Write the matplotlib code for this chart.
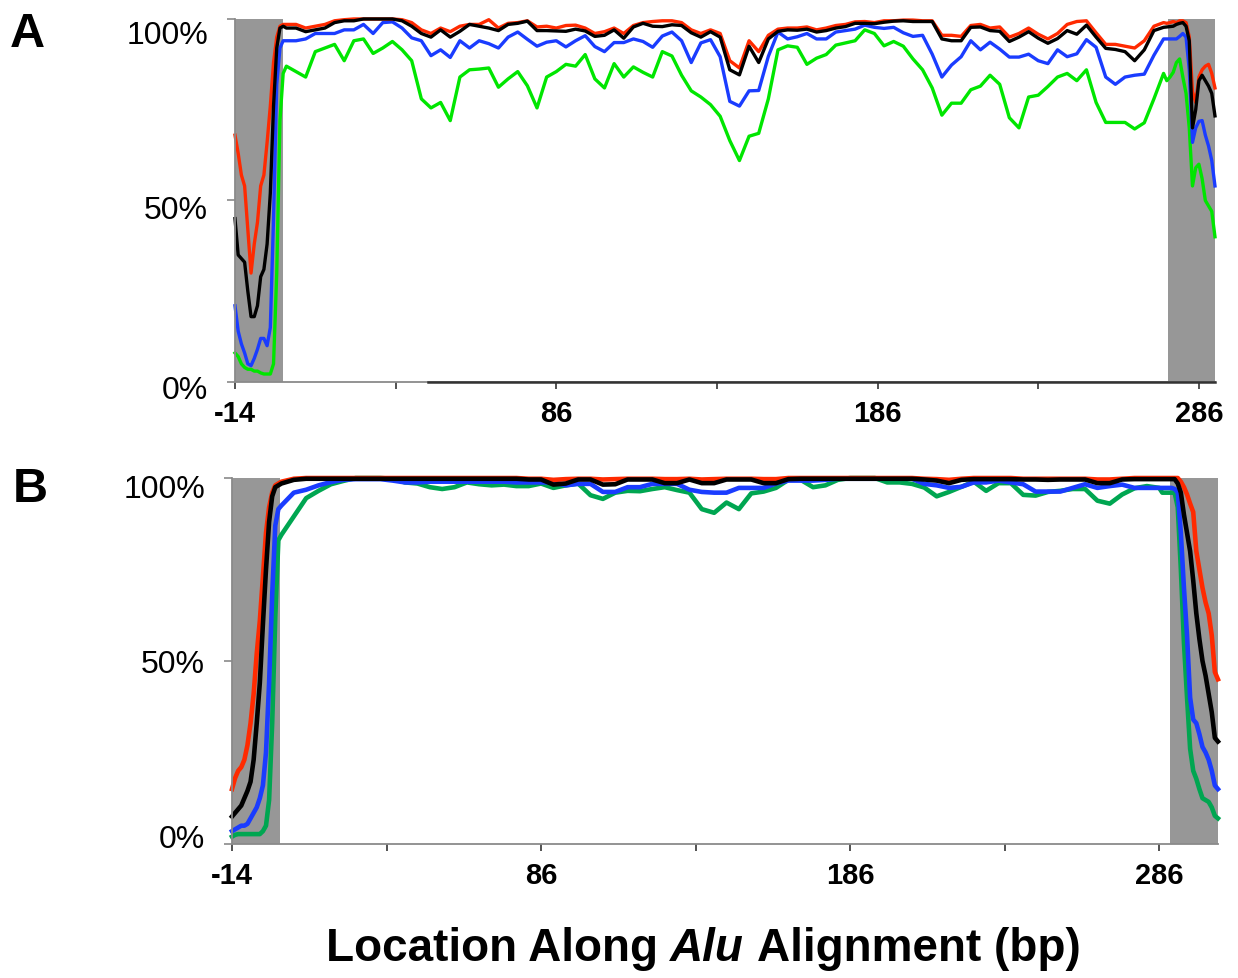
import matplotlib
matplotlib.use("Agg")
import matplotlib.pyplot as plt
from matplotlib import transforms
from matplotlib.offsetbox import TextArea, HPacker, AnchoredOffsetbox

plt.rcParams["font.family"] = ["Liberation Sans", "DejaVu Sans"]

# ---------------- panel A (positions along the Alu alignment) ----------------
a_x = list(range(-14, 3)) + list(range(5, 276, 3)) + list(range(276, 292))

a_red = ([68, 63, 57, 54, 42, 30, 38, 44, 54, 57, 66, 76, 88, 95, 98, 98.5, 98.5]
         + [98.5, 97.5, 98, 98.5, 99.5, 99.8, 100, 100, 100, 100,
            100, 99.8, 99, 97, 96, 97.5, 96.5, 98, 98.5, 98.5,
            99.8, 97.5, 98.8, 99, 99.5, 97.8, 98, 97.5, 98.2, 98.3,
            97.5, 96, 96.5, 97.5, 96, 98.2, 99, 99.3, 99.5, 99.5,
            99, 97, 96, 97, 96, 88.5, 86.5, 94, 91, 95.5,
            97.2, 97.5, 97.5, 97.8, 97, 97.5, 98.2, 98.5, 99.2, 99.3,
            99, 99.5, 99.5, 99.7, 99.7, 99.5, 99.5, 95.5, 95.5, 95.2,
            98.2, 98.5, 97.5, 97.8, 95, 96, 97.5, 95.8, 94.5, 96,
            98.5, 99.3, 99.5, 96.2, 93, 93, 92.5, 92, 94, 98,
            99]
         + [98.8, 99, 99.3, 99, 99.5, 99.5, 99, 95, 80, 77, 84, 86, 87, 87.5, 85, 81])

a_black = ([45, 35, 34, 33, 25, 18, 18, 21, 29, 31, 38, 52, 76, 92, 97.5, 98, 97.5]
           + [97.5, 96.5, 97, 97.5, 99, 99.5, 99.5, 100, 100, 100,
              100, 99.5, 98, 96, 95, 97, 95, 96.6, 98.5, 98,
              97.5, 96.8, 98.5, 98.8, 99.4, 96.8, 96.8, 96.7, 96.6, 97.2,
              96.7, 95.2, 95.5, 97, 94.7, 97.8, 98.8, 98, 97.9, 98.4,
              98.2, 96.2, 95, 96.5, 95, 86, 84.6, 92.5, 88, 94.5,
              96.6, 97, 96.9, 97.2, 96.4, 96.8, 97.5, 97.9, 98.8, 98.8,
              98.7, 99.1, 99.4, 99.5, 99.3, 99.3, 99.3, 94.5, 94, 94,
              97.7, 97.8, 96.8, 96.6, 93.8, 95, 96.5, 94.7, 93.3, 94.6,
              96.8, 95.8, 98.3, 95, 91.9, 91.6, 91, 88.5, 91.5, 96.8,
              97.7]
           + [97.8, 97.9, 98, 98.5, 98.8, 99, 98, 94, 70, 75, 83, 84.5, 83, 81.5, 79.5, 73.3])

a_blue = ([21, 14, 10.5, 8, 5, 4.5, 6.5, 9, 12, 12, 10, 15, 45, 82, 92, 94, 94]
          + [94, 94.5, 96, 96, 96, 97, 97, 98.5, 96, 99,
             99.2, 97.5, 94.8, 94, 89.9, 91.5, 89.4, 94, 92, 94,
             93.2, 92, 95, 96.4, 94.4, 92.5, 93.6, 94, 92.3, 94,
             95.4, 92.4, 91, 93.5, 93.5, 94.5, 93.8, 92.2, 95.3, 96.4,
             94, 88, 93.4, 94.3, 89.6, 77.3, 76, 80.2, 80.3, 89.7,
             96.4, 94.5, 95.1, 96, 94.5, 94.5, 96.4, 96.8, 97.2, 98.3,
             97.7, 97.4, 97.7, 96.2, 95.2, 95.5, 90.3, 84, 87.3, 89.6,
             94, 91.5, 93.6, 91.7, 89.5, 89.5, 90.3, 88.5, 87.7, 91.5,
             89.6, 90.4, 94.3, 92.2, 84, 82, 84, 84.5, 84.8, 90,
             94.5]
          + [94.5, 94.5, 94.5, 94.5, 95.2, 96, 95, 86, 66, 70, 71.8, 72, 68, 65, 61, 54])

a_green = ([8, 7, 5, 4, 3.5, 3.5, 3, 3, 2.5, 2.2, 2.2, 2.2, 5, 30, 72, 85, 87]
           + [85.5, 84, 91, 92, 93, 88.5, 94, 94.5, 90.5, 92,
              93.8, 91.5, 88.5, 78, 75.5, 77, 72, 84, 86, 86.2,
              86.5, 81.2, 83.5, 85.5, 81.6, 75.5, 84, 85.5, 87.5, 87,
              90.2, 83.5, 81, 87.7, 84, 86.8, 85.3, 84, 91, 89.8,
              84.5, 80.2, 78.5, 76.4, 73.2, 66.5, 61, 67.7, 68.5, 78,
              91.5, 92.6, 92.2, 87.5, 89.2, 90.2, 92.8, 93.4, 94, 97,
              96, 92.6, 93.8, 92.5, 89, 86, 81, 73.5, 76.8, 76.8,
              80.5, 81.5, 84.5, 82, 72.8, 70, 78.5, 79, 81.4, 84,
              85, 83, 86, 77, 71.5, 71.5, 71.5, 69.7, 71.4, 78,
              85]
           + [83, 84, 85.3, 88, 89, 84, 79.5, 70, 54, 59, 60, 56, 50, 48.5, 47, 40])

# ---------------- panel B ----------------
b_x = list(range(-14, 3)) + list(range(6, 287, 4)) + list(range(287, 306))

b_red = ([15, 18, 20, 21, 23, 27, 33, 41, 52, 61, 73, 85, 92, 96, 98, 98.5, 99]
         + [99.8, 100, 100, 100, 100, 100, 100, 100, 100, 100,
            100, 100, 100, 100, 100, 100, 100, 100, 100, 99.8,
            99.8, 99.5, 99.7, 99.8, 99.8, 99.6, 99.7, 99.8, 99.8, 99.8,
            99.7, 99.7, 99.8, 99.6, 99.7, 99.8, 99.8, 99.8, 99.7, 99.7,
            100, 100, 100, 100, 100, 100, 100, 100, 100, 100,
            100, 99.8, 99.7, 99.5, 99.8, 100, 100, 100, 100, 99.8,
            99.8, 99.8, 99.8, 99.8, 99.8, 99.6, 99.6, 99.8, 100, 100,
            100]
         + [100, 100, 100, 100, 100, 100, 99, 97.5, 95.5, 93, 90.7, 80, 75, 70, 66, 63, 57, 47, 45])

b_black = ([7.5, 8.5, 9.5, 10.5, 12.5, 14.5, 17, 23, 33, 44, 60, 75, 88, 95, 97.5, 98, 98.5]
           + [99.5, 99.8, 99.8, 99.8, 99.8, 99.8, 99.8, 99.8, 99.8, 99.8,
              99.8, 99.8, 99.8, 99.8, 99.8, 99.8, 99.8, 99.8, 99.8, 99.6,
              99.6, 98.2, 98.5, 99.6, 99.6, 98.2, 98.3, 99.6, 99.6, 99.6,
              98.6, 98.6, 99.6, 98.6, 98.6, 99.6, 99.6, 99.6, 98.6, 98.6,
              99.7, 99.8, 99.8, 99.8, 99.8, 99.8, 99.8, 99.8, 99.8, 99.8,
              99.8, 99.6, 99.3, 98.6, 99.5, 99.7, 99.7, 99.7, 99.7, 99.6,
              99.6, 99.5, 99.6, 99.6, 99.6, 98.6, 98.6, 99.6, 99.7, 99.7,
              99.7]
           + [99.7, 99.7, 99.7, 99.7, 99.7, 98.5, 96, 90, 85, 80, 72, 63, 56, 50, 46, 41, 36, 29, 28])

b_blue = ([3.5, 4, 4.5, 5, 5, 5.5, 7, 8.5, 10, 12.5, 16, 25, 44, 68, 87, 91.5, 92.5]
          + [96, 96.8, 98, 98.9, 99.5, 99.7, 99.7, 99.7, 99.3, 98.8,
             98.8, 99, 99, 99, 99, 99, 99, 99, 98.8, 98.8,
             98.8, 98.8, 98, 98.4, 98.4, 96.2, 96.2, 97.5, 97.5, 98.4,
             98.4, 98.4, 96.8, 96.2, 96, 96, 97.3, 97.3, 97.3, 98.5,
             99.3, 99.3, 99.3, 99.5, 99.8, 99.8, 99.8, 99.8, 99.8, 99.8,
             99.8, 98.4, 98, 97.3, 97.6, 98.8, 98.8, 99.3, 98.8, 98.3,
             96.3, 96.3, 96.3, 97.3, 98.3, 97.3, 97.8, 98.2, 97.3, 97.3,
             97.3]
          + [97.3, 97.3, 97.3, 97.3, 97, 96, 85, 70, 57, 40, 34, 33, 30, 26.5, 25, 23, 20, 16, 15])

b_green = ([2, 2.5, 2.7, 2.7, 2.7, 2.7, 2.7, 2.7, 2.7, 2.7, 3.5, 5, 12, 33, 62, 83, 84.5]
           + [89.5, 94.5, 96.5, 98.3, 99.2, 100, 100, 100, 99.8, 98.8,
              98.5, 97.5, 97, 97.5, 98.8, 98.3, 98, 98.2, 97.8, 97.8,
              98.5, 97.3, 98, 98.5, 95.3, 94.3, 96, 96.5, 96.4, 97,
              97.5, 96.7, 96, 91.5, 90.5, 93.3, 91.5, 95.8, 96.3, 97.3,
              99.5, 99.5, 97.5, 98, 99.5, 100, 100, 100, 98.8, 98.8,
              98.4, 97.4, 95, 96.2, 97.6, 99, 96.5, 98.6, 98.6, 95.4,
              95.2, 96.2, 96.5, 97, 97, 93.8, 93, 95.5, 97.2, 97.8,
              97.3]
           + [96, 96, 96, 96, 96, 92, 75, 55, 40, 26, 20, 17.8, 15, 12.5, 12, 11.5, 10, 7.7, 7])

RED = "#ff2a00"
BLACK = "#000000"
BLUE = "#1a3cff"
GREEN_A = "#00e600"
GREEN_B = "#00a651"
SHADE = "#979797"
AXIS = "#8a8a8a"
TICK = "#444444"

fig = plt.figure(figsize=(12.38, 9.79), dpi=100)
ax_a = fig.add_axes([0.1898, 0.6088, 0.7916, 0.3708])
ax_b = fig.add_axes([0.1874, 0.1369, 0.7964, 0.3738])


def draw_panel(ax, x, series, xmax, shade_l, shade_r, lw, lab_dy):
    ax.axvspan(-14, shade_l, color=SHADE, lw=0, zorder=0)
    ax.axvspan(shade_r, xmax, color=SHADE, lw=0, zorder=0)
    for vals, col in series:
        ax.plot(x, vals, color=col, lw=lw, zorder=2, clip_on=False)
    ax.set_xlim(-14, xmax)
    ax.set_ylim(0, 100)
    for s in ["top", "right"]:
        ax.spines[s].set_visible(False)
    for s in ["left", "bottom"]:
        ax.spines[s].set_color(AXIS)
        ax.spines[s].set_linewidth(1.3)
    ax.set_xticks(list(range(-14, int(xmax) + 1, 50)))
    ax.set_xticklabels(["-14", "", "86", "", "186", "", "286"],
                       fontsize=21, fontweight="bold")
    ax.tick_params(axis="x", direction="out", length=5, width=1.3,
                   color=TICK, pad=7)
    ax.set_yticks([0, 50, 100])
    ax.set_yticklabels([])
    ax.tick_params(axis="y", direction="out", length=6, width=1.2, color=AXIS)
    base = transforms.blended_transform_factory(ax.transAxes, ax.transData)
    for v, dy in zip([0, 50, 100], lab_dy):
        tr = base + transforms.ScaledTranslation(-0.27, -dy / 100, fig.dpi_scale_trans)
        ax.text(0, v, f"{v}%", transform=tr, ha="right", va="center", fontsize=23)


draw_panel(ax_a, a_x,
           [(a_green, GREEN_A), (a_blue, BLUE), (a_red, RED), (a_black, BLACK)],
           291, 1, 276.4, 2.4, [8, 10, 16])
draw_panel(ax_b, b_x,
           [(b_green, GREEN_B), (b_blue, BLUE), (b_red, RED), (b_black, BLACK)],
           305, 1.4, 289.5, 3.3, [-5, 3, 11])

# the darker stretch of panel A's baseline
ax_a.axhline(0, xmin=0.197, xmax=1, color="#333333", lw=1.8, zorder=3, clip_on=False)

fig.text(0.008, 0.952, "A", fontsize=35, fontweight="bold", va="baseline")
fig.text(0.010, 0.487, "B", fontsize=35, fontweight="bold", va="baseline")

# x axis title with italic gene name
fs = 33
parts = [TextArea("Location Along", textprops=dict(fontsize=fs, fontweight="bold")),
         TextArea("Alu", textprops=dict(fontsize=fs, fontweight="bold", fontstyle="italic")),
         TextArea("Alignment (bp)", textprops=dict(fontsize=fs, fontweight="bold"))]
row = HPacker(children=parts, align="baseline", pad=0, sep=fs * 0.28)
box = AnchoredOffsetbox(loc="center", child=row, pad=0, borderpad=0, frameon=False,
                        bbox_to_anchor=(0.568, 0.031), bbox_transform=fig.transFigure)
fig.add_artist(box)

fig.savefig("out.png", dpi=100)
